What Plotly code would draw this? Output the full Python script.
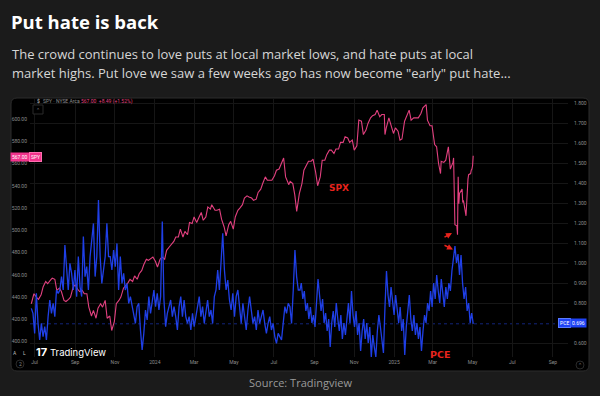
import plotly.graph_objects as go
import pandas as pd

# ---------------- data ----------------
spy_dates = [
    "2023-06-26", "2023-06-30", "2023-07-05", "2023-07-07", "2023-07-11", "2023-07-14", "2023-07-18", "2023-07-21",
    "2023-07-25", "2023-07-28", "2023-08-01", "2023-08-04", "2023-08-08", "2023-08-11", "2023-08-15", "2023-08-18",
    "2023-08-22", "2023-08-25", "2023-08-29", "2023-09-01", "2023-09-05", "2023-09-08", "2023-09-12", "2023-09-15",
    "2023-09-19", "2023-09-22", "2023-09-26", "2023-09-29", "2023-10-03", "2023-10-06", "2023-10-10", "2023-10-13",
    "2023-10-17", "2023-10-20", "2023-10-24", "2023-10-27", "2023-10-31", "2023-11-03", "2023-11-07", "2023-11-10",
    "2023-11-14", "2023-11-17", "2023-11-21", "2023-11-24", "2023-11-28", "2023-12-01", "2023-12-05", "2023-12-08",
    "2023-12-12", "2023-12-15", "2023-12-19", "2023-12-22", "2023-12-26", "2023-12-29",
    "2024-01-02", "2024-01-05", "2024-01-09", "2024-01-12", "2024-01-16", "2024-01-19", "2024-01-23", "2024-01-26",
    "2024-01-30", "2024-02-02", "2024-02-06", "2024-02-09", "2024-02-13", "2024-02-16", "2024-02-20", "2024-02-23",
    "2024-02-27", "2024-03-01", "2024-03-05", "2024-03-08", "2024-03-12", "2024-03-15", "2024-03-19", "2024-03-22",
    "2024-03-26", "2024-03-28", "2024-04-02", "2024-04-05", "2024-04-09", "2024-04-12", "2024-04-16", "2024-04-19",
    "2024-04-23", "2024-04-26", "2024-04-30", "2024-05-03", "2024-05-07", "2024-05-10", "2024-05-14", "2024-05-17",
    "2024-05-21", "2024-05-24", "2024-05-28", "2024-05-31", "2024-06-04", "2024-06-07", "2024-06-11", "2024-06-14",
    "2024-06-18", "2024-06-21", "2024-06-25", "2024-06-28", "2024-07-02", "2024-07-05", "2024-07-09", "2024-07-12",
    "2024-07-16", "2024-07-19", "2024-07-24", "2024-07-26", "2024-07-30", "2024-08-02", "2024-08-05", "2024-08-09",
    "2024-08-13", "2024-08-16", "2024-08-20", "2024-08-23", "2024-08-27", "2024-08-30", "2024-09-03", "2024-09-06",
    "2024-09-10", "2024-09-13", "2024-09-17", "2024-09-20", "2024-09-24", "2024-09-27", "2024-10-01", "2024-10-04",
    "2024-10-08", "2024-10-11", "2024-10-15", "2024-10-18", "2024-10-22", "2024-10-25", "2024-10-29", "2024-11-01",
    "2024-11-05", "2024-11-08", "2024-11-12", "2024-11-15", "2024-11-19", "2024-11-22", "2024-11-26", "2024-11-29",
    "2024-12-03", "2024-12-06", "2024-12-10", "2024-12-13", "2024-12-17", "2024-12-18", "2024-12-20", "2024-12-24",
    "2024-12-27", "2024-12-31",
    "2025-01-03", "2025-01-07", "2025-01-10", "2025-01-13", "2025-01-17", "2025-01-21", "2025-01-24", "2025-01-27",
    "2025-01-31", "2025-02-04", "2025-02-07", "2025-02-11", "2025-02-14", "2025-02-19", "2025-02-21", "2025-02-25",
    "2025-02-28", "2025-03-04", "2025-03-07", "2025-03-10", "2025-03-13", "2025-03-14", "2025-03-18", "2025-03-21",
    "2025-03-25", "2025-03-28", "2025-04-01", "2025-04-02", "2025-04-03", "2025-04-04", "2025-04-07", "2025-04-08",
    "2025-04-09", "2025-04-10", "2025-04-11", "2025-04-15", "2025-04-16", "2025-04-17", "2025-04-21", "2025-04-22",
    "2025-04-23", "2025-04-24", "2025-04-25", "2025-04-28", "2025-04-29", "2025-04-30", "2025-05-01", "2025-05-02",
]
spy_close = [
    434, 443, 439, 438, 442, 449, 454, 452,
    455, 457, 456, 446, 448, 445, 437, 436,
    438, 440, 449, 451, 447, 445, 446, 443,
    443, 431, 423, 428, 421, 430, 434, 431,
    437, 421, 423, 410, 418, 434, 437, 440,
    448, 450, 453, 456, 454, 459, 456, 461,
    464, 469, 474, 473, 475, 476,
    472, 467, 474, 476, 474, 482, 485, 487,
    490, 494, 494, 501, 494, 499, 496, 507,
    506, 512, 507, 511, 516, 509, 512, 521,
    519, 523, 518, 518, 519, 510, 503, 495,
    505, 508, 501, 512, 518, 520, 523, 529,
    531, 530, 529, 527, 528, 534, 537, 542,
    548, 545, 545, 545, 549, 554, 555, 560,
    565, 548, 541, 544, 542, 532, 517, 533,
    542, 554, 558, 562, 562, 564, 552, 540,
    548, 563, 563, 568, 572, 572, 569, 573,
    573, 579, 579, 584, 583, 579, 581, 572,
    576, 599, 598, 586, 590, 596, 601, 603,
    604, 608, 602, 604, 604, 586, 592, 601,
    595, 587,
    592, 589, 581, 582, 598, 603, 608, 599,
    601, 601, 601, 605, 610, 613, 599, 594,
    594, 577, 575, 560, 551, 562, 561, 563,
    575, 555, 561, 565, 536, 505, 504, 496,
    548, 524, 533, 537, 525, 527, 513, 527,
    536, 546, 550, 551, 554, 555, 558, 567,
]

# Equity put/call ratio (PCE), read at even spacing in two stretches
pce_seg1_span = ("2023-06-26", "2024-08-10")
pce_seg1 = [
    0.773, 0.748, 0.648, 0.848, 0.698, 0.615, 0.698, 0.632, 0.682, 0.615,
    0.732, 0.815, 0.748, 0.798, 0.732, 0.865, 0.848, 0.865, 0.932, 0.865,
    1.090, 0.982, 0.865, 0.998, 0.948, 0.865, 0.965, 0.832, 1.032, 0.882,
    0.832, 1.132, 0.932, 0.982, 0.865, 1.032, 1.132, 1.198, 0.932, 1.032,
    1.315, 1.032, 0.898, 0.965, 1.032, 1.198, 1.032, 1.032, 0.965, 1.065,
    0.982, 1.098, 0.865, 1.032, 0.898, 0.948, 0.865, 0.898, 0.798, 0.832,
    0.782, 0.732, 0.698, 0.782, 0.798, 0.665, 0.565, 0.648, 0.765, 0.715,
    0.832, 0.748, 0.798, 0.865, 0.782, 0.848, 0.765, 0.832, 1.207,
    0.815, 0.682, 0.748, 0.782, 0.815, 0.732, 0.782, 0.732, 0.665, 0.782,
    0.832, 0.732, 0.815, 0.732, 0.698, 0.732, 0.665, 0.748, 0.682, 0.732,
    0.782, 0.832, 0.732, 0.782, 0.698, 0.765, 0.815, 0.732, 0.765, 0.698,
    0.832, 0.865, 0.965, 0.865, 0.998, 1.148, 0.965, 0.865, 0.915, 0.815,
    0.765, 0.848, 0.732, 0.832, 0.865, 0.765, 0.698, 0.798, 0.732, 0.665,
    0.765, 0.832, 0.765, 0.698, 0.732, 0.665, 0.765, 0.698, 0.732, 0.765,
    0.698, 0.648, 0.698, 0.732, 0.665, 0.698, 0.632, 0.598, 0.648, 0.632,
    0.615, 0.698, 0.782, 0.748, 0.798, 0.782, 0.698, 0.865, 1.065, 0.932,
    0.865, 0.865,
]
pce_seg2_span = ("2024-08-12", "2025-05-02")
pce_seg2 = [
    0.90, 0.82, 0.86, 0.76, 0.80, 0.72, 0.78, 0.70, 0.74, 0.68,
    0.80, 0.92, 0.84, 0.76, 0.82, 0.70, 0.75, 0.66, 0.72, 0.58,
    0.70, 0.76, 0.68, 0.80, 0.72, 0.66, 0.74, 0.62, 0.70, 0.64,
    0.72, 0.80, 0.70, 0.86, 0.74, 0.68, 0.76, 0.64, 0.70, 0.56,
    0.66, 0.72, 0.62, 0.70, 0.60, 0.68, 0.53, 0.64, 0.58, 0.53,
    0.66, 0.74, 0.68, 0.60, 0.55, 0.78, 0.96, 0.84, 0.78, 0.88,
    0.80, 0.74, 0.84, 0.76, 0.70, 0.78, 0.66, 0.72, 0.54, 0.68,
    0.76, 0.84, 0.72, 0.66, 0.74, 0.64, 0.70, 0.62, 0.68, 0.56,
    0.66, 0.74, 0.70, 0.80, 0.76, 0.86, 0.78, 0.90, 0.82, 0.94,
    0.86, 0.80, 0.92, 0.84, 0.78, 0.88, 0.82, 0.90, 0.86, 0.96,
    1.04, 1.085, 1.00, 1.045, 0.94, 1.04, 0.90, 0.82, 0.88, 0.76, 0.80, 0.70, 0.75, 0.696,
]

x_tick_dates = ["2023-07-01", "2023-09-01", "2023-11-01", "2024-01-01", "2024-03-01", "2024-05-01",
                "2024-07-01", "2024-09-01", "2024-11-01", "2025-01-01", "2025-03-01", "2025-05-01",
                "2025-07-01", "2025-09-01"]
x_tick_labels = ["Jul", "Sep", "Nov", "2024", "Mar", "May", "Jul", "Sep", "Nov", "2025", "Mar", "May", "Jul", "Sep"]
spy_ticks = [400, 420, 440, 460, 480, 500, 520, 540, 560, 580, 600]
pce_ticks = [0.6, 0.8, 0.9, 1.0, 1.1, 1.2, 1.3, 1.4, 1.5, 1.6, 1.7, 1.8]
spy_last = spy_close[-1]
pce_last = pce_seg2[-1]

# ---------------- figure ----------------
W, H = 600, 396
ML, MR, MT, MB = 30, 32, 98, 39
PW, PH = W - ML - MR, H - MT - MB


def px(x):
    return (x - ML) / PW


def py(y):
    return (H - MB - y) / PH


pce_dates = list(pd.date_range(pce_seg1_span[0], pce_seg1_span[1], periods=len(pce_seg1))) + \
    list(pd.date_range(pce_seg2_span[0], pce_seg2_span[1], periods=len(pce_seg2)))
pce_vals = pce_seg1 + pce_seg2

PINK = "#e2407f"
BLUE = "#1f3fe6"
TXT = "#8c8c8c"

fig = go.Figure()
fig.add_trace(go.Scatter(x=pd.to_datetime(spy_dates), y=spy_close, mode="lines",
                         line=dict(color=PINK, width=1.1), yaxis="y", hoverinfo="skip"))
fig.add_trace(go.Scatter(x=pce_dates, y=pce_vals, mode="lines",
                         line=dict(color=BLUE, width=1.3), yaxis="y2", hoverinfo="skip"))

# rounded black panel
x0, x1, y0, y1 = px(11), px(589), py(371), py(98)
rx, ry = 6 / PW, 6 / PH
path = (f"M {x0+rx},{y1} L {x1-rx},{y1} Q {x1},{y1} {x1},{y1-ry} L {x1},{y0+ry} "
        f"Q {x1},{y0} {x1-rx},{y0} L {x0+rx},{y0} Q {x0},{y0} {x0},{y0+ry} "
        f"L {x0},{y1-ry} Q {x0},{y1} {x0+rx},{y1} Z")
shapes = [
    dict(type="path", path=path, xref="paper", yref="paper", fillcolor="#000000",
         line=dict(color="#2c2c2c", width=1), layer="below"),
    dict(type="line", xref="paper", x0=0, x1=1, yref="y2", y0=pce_last, y1=pce_last,
         line=dict(color="#12247a", width=1, dash="dot"), layer="below"),
    # small control boxes
    dict(type="rect", xref="paper", yref="paper", x0=px(33), x1=px(43), y0=py(114), y1=py(105),
         line=dict(color="#2a2a2a", width=1), fillcolor="#000000"),
    dict(type="circle", xref="paper", yref="paper", x0=px(16), x1=px(24), y0=py(368), y1=py(360),
         line=dict(color="#2a2a2a", width=1), fillcolor="#000000"),
    dict(type="circle", xref="paper", yref="paper", x0=px(576), x1=px(584), y0=py(369), y1=py(361),
         line=dict(color="#2a2a2a", width=1), fillcolor="#000000"),
]

TV = "Roboto"
ann = []


def A(x, y, text, size, color, xanchor="left", family=TV, **kw):
    ann.append(dict(x=px(x), y=py(y), xref="paper", yref="paper", text=text, showarrow=False,
                    xanchor=xanchor, yanchor="middle", font=dict(size=size, color=color, family=family), **kw))


# titles
A(9, 22, "<b>Put hate is back</b>", 18.5, "#ffffff", family="Open Sans")
A(10, 54, "The crowd continues to love puts at local market lows, and hate puts at local", 13, "#d6d6d6",
  family="Open Sans")
A(10, 73, "market highs. Put love we saw a few weeks ago has now become \"early\" put hate...", 13, "#d6d6d6",
  family="Open Sans")
A(300, 382, "Source: Tradingview", 11, "#9a9a9a", xanchor="center", family="Open Sans")

# TradingView legend / badges
A(35, 101, "$", 5, "#cfcfcf")
A(41, 101, "SPY · NYSE Arca", 5, TXT)
A(79, 101, f"{spy_last:.2f}  +8.49 (+1.52%)", 5, PINK)
A(38, 109.5, "⌃", 5, TXT, xanchor="center")
A(20, 156.5, f"{spy_last:.2f}", 5, "#ffffff", xanchor="center", bgcolor="#f2338c", borderpad=1)
A(35, 156.5, "SPY", 5, "#ffffff", xanchor="center", bgcolor="#f2338c", bordercolor="#ff6fb0", borderpad=1)
A(564, 323, "PCE", 5, "#ffffff", xanchor="center", bgcolor="#1f43f5", bordercolor="#5b7bff", borderpad=1)
A(578, 323, f"{pce_last:.3f}", 5, "#ffffff", xanchor="center", bgcolor="#1f43f5", borderpad=1)
A(15, 353, "A", 5, "#bdbdbd", xanchor="center")
A(24, 353, "L", 5, "#bdbdbd", xanchor="center")
A(20, 364, "2", 5, TXT, xanchor="center")
A(580, 365, "⌃", 5, TXT, xanchor="center")
A(33.5, 352, "<b>17</b>", 11, "#ffffff", family="Inter")
A(48, 352, "TradingView", 9.5, "#ffffff", family="Inter")

# chart annotations
ann.append(dict(x="2024-10-09", y=538, xref="x", yref="y", text="<b>SPX</b>", showarrow=False,
                font=dict(size=9, color="#e8231c", family="DejaVu Sans"), xanchor="center", yanchor="middle"))
ann.append(dict(x=px(440), y=py(354), xref="paper", yref="paper", text="<b>PCE</b>", showarrow=False,
                font=dict(size=9.5, color="#e8231c", family="DejaVu Sans"), xanchor="center", yanchor="middle"))
ann.append(dict(x=px(452), y=py(233), xref="paper", yref="paper", text="", showarrow=True,
                arrowhead=2, arrowsize=0.8, arrowwidth=1.5, arrowcolor="#e8231c", ax=-9, ay=5))
ann.append(dict(x=px(453), y=py(249.5), xref="paper", yref="paper", text="", showarrow=True,
                arrowhead=2, arrowsize=0.8, arrowwidth=1.5, arrowcolor="#e8231c", ax=-10, ay=-5))

ymin_l = 600 - (H - MB - 119) / 1.113
ymax_l = 600 + (119 - MT) / 1.113
ymin_r = 1.8 - (H - MB - 103) / 200
ymax_r = 1.8 + (103 - MT) / 200

fig.update_layout(
    width=W, height=H,
    margin=dict(l=ML, r=MR, t=MT, b=MB),
    paper_bgcolor="#1b1b1b",
    plot_bgcolor="rgba(0,0,0,0)",
    showlegend=False,
    hovermode=False,
    shapes=shapes,
    annotations=ann,
    xaxis=dict(type="date", range=["2023-06-24", "2025-09-24"], tickvals=x_tick_dates, ticktext=x_tick_labels,
               showgrid=True, gridcolor="#161616", gridwidth=1, zeroline=False, showline=False, ticks="",
               tickfont=dict(size=5, color=TXT, family=TV), ticklabelstandoff=1),
    yaxis=dict(range=[ymin_l, ymax_l], tickvals=spy_ticks, tickformat=".2f", showgrid=False, zeroline=False,
               showline=False, ticks="", tickfont=dict(size=5, color=TXT, family=TV), ticklabelstandoff=2),
    yaxis2=dict(range=[ymin_r, ymax_r], overlaying="y", side="right", tickvals=pce_ticks, tickformat=".3f",
                showgrid=True, gridcolor="#161616", zeroline=False, showline=False, ticks="",
                tickfont=dict(size=5, color=TXT, family=TV), ticklabelstandoff=5),
)

fig.write_html("out.html", config={"displayModeBar": False},
               post_script="document.body.style.margin='0';document.body.style.background='#1b1b1b';")
